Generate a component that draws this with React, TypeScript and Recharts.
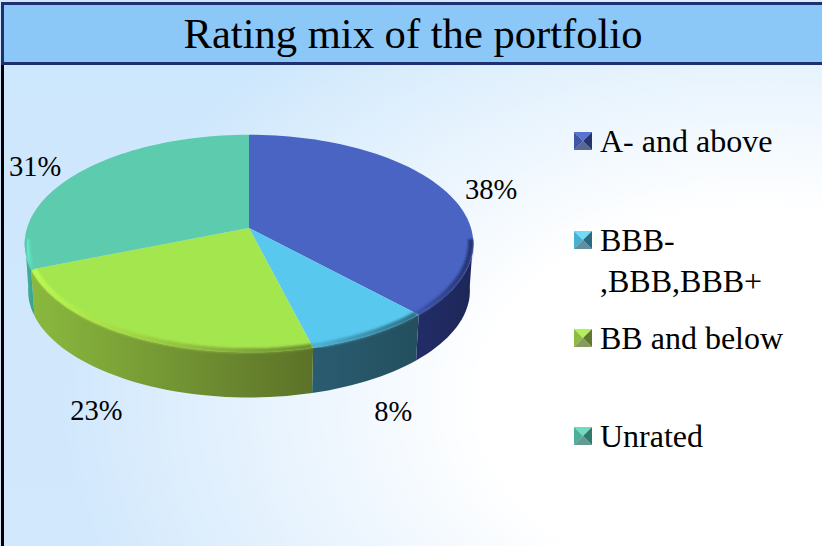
import React from 'react';
import { PieChart, Pie, Legend } from 'recharts';

const categories = ['A- and above', 'BBB-\n,BBB,BBB+', 'BB and below', 'Unrated'];
const values = [38, 8, 23, 31];

const topColors = ['#4a64c4', '#58c8ee', '#a4e64e', '#5ccbae'];
const wallLeft = ['#222d68', '#2a5c70', '#8ab93e', '#46b59c'];
const wallRight = ['#1d2657', '#234f5e', '#5c7228', '#3a9f8a'];
const rimLeft = ['#3f55ab', '#4fb4d6', '#bcfb50', '#62ecc8'];
const rimRight = ['#25336f', '#2f6f86', '#6f8f32', '#5ccbae'];
const markerLight = ['#5a72d0', '#6fdcf8', '#b4f05c', '#6fdcc0'];
const markerMid = ['#3f55a8', '#4ab0d0', '#8cbc44', '#4cb09a'];
const markerDark = ['#27346f', '#2c6a80', '#5f7a2c', '#2f7a6c'];
const legendTops = [0, 99, 197, 295];
const labelNudge = [[46, -1], [22, 77], [-37, 74], [-44, -6]];

const chartData = categories.map((name, i) => ({ name, value: values[i], index: i }));

const SQUASH = 0.48; // top face height vs width
const TILT = 0.143; // perspective, near edge looks bigger
const DEPTH = 47;
const FONT = '"Liberation Serif", "Times New Roman", serif';

// point on the tilted disc for a recharts angle
function project(cx: number, cy: number, r: number, deg: number, scale = 1) {
  const a = (deg * Math.PI) / 180;
  const u = Math.cos(a) * scale;
  const v = -Math.sin(a) * scale;
  const w = 1 - TILT * v;
  return { x: cx + (r * u) / w, y: cy + (r * SQUASH * v) / w };
}

function arcPoints(cx: number, cy: number, r: number, from: number, to: number, scale = 1) {
  const n = Math.max(2, Math.ceil(Math.abs(to - from) / 2));
  return Array.from({ length: n + 1 }, (_, i) => project(cx, cy, r, from + ((to - from) * i) / n, scale));
}

const toPath = (pts: { x: number; y: number }[]) =>
  pts.map((p, i) => `${i ? 'L' : 'M'}${p.x.toFixed(1)},${p.y.toFixed(1)}`).join(' ');

function SliceShape(props: any) {
  const { cx, cy, outerRadius, startAngle, endAngle, index } = props;
  const i = index ?? props.payload?.index ?? 0;
  const top = arcPoints(cx, cy, outerRadius, startAngle, endAngle);

  // only the near part of the rim has a visible wall
  const wallFrom = Math.min(startAngle, -6);
  const wallTo = Math.max(endAngle, -174);
  const hasWall = wallFrom > wallTo;
  let wall = '';
  if (hasWall) {
    const upper = arcPoints(cx, cy, outerRadius, wallFrom, wallTo);
    const lower = arcPoints(cx, cy + DEPTH, outerRadius * 0.985, wallTo, wallFrom);
    wall = `${toPath(upper)} ${toPath(lower).replace('M', 'L')} Z`;
  }

  return (
    <g>
      <defs>
        <linearGradient id={`wall${i}`} x1="0" x2="1" y1="0" y2="0">
          <stop offset="0" stopColor={wallLeft[i]} />
          <stop offset="1" stopColor={wallRight[i]} />
        </linearGradient>
        <linearGradient id={`rim${i}`} x1="0" x2="1" y1="0" y2="0">
          <stop offset="0" stopColor={rimLeft[i]} />
          <stop offset="1" stopColor={rimRight[i]} />
        </linearGradient>
        <filter id={`soft${i}`} x="-5%" y="-5%" width="110%" height="110%">
          <feGaussianBlur stdDeviation="1.2" />
        </filter>
      </defs>
      {hasWall && <path d={wall} fill={`url(#wall${i})`} />}
      <path d={`M${cx},${cy} ${toPath(top).replace('M', 'L')} Z`} fill={topColors[i]} />
      {hasWall && (
        <path
          d={toPath(arcPoints(cx, cy, outerRadius, wallFrom, wallTo, 0.988))}
          fill="none"
          stroke={`url(#rim${i})`}
          strokeWidth={5}
          filter={`url(#soft${i})`}
        />
      )}
    </g>
  );
}

function PercentLabel(props: any) {
  const { cx, cy, outerRadius, midAngle, value, index } = props;
  const p = project(cx, cy, outerRadius, midAngle);
  const i = index ?? 0;
  return (
    <text
      x={p.x + labelNudge[i][0]}
      y={p.y + labelNudge[i][1]}
      fontFamily={FONT}
      fontSize={28.5}
      fill="#000"
      textAnchor="middle"
      dominantBaseline="central"
    >
      {value}%
    </text>
  );
}

function Marker({ i }: { i: number }) {
  return (
    <svg width={18} height={18} style={{ position: 'absolute', left: 0, top: 0 }}>
      <polygon points="0,0 18,0 9,9" fill={markerLight[i]} />
      <polygon points="0,0 0,18 9,9" fill={markerMid[i]} />
      <polygon points="18,0 18,18 9,9" fill={markerDark[i]} />
      <polygon points="0,18 18,18 9,9" fill={markerDark[i]} opacity={0.75} />
    </svg>
  );
}

function RatingLegend({ payload }: any) {
  return (
    <div style={{ position: 'relative', width: 240, height: 340 }}>
      {(payload || []).map((entry: any, idx: number) => (
        <div key={idx} style={{ position: 'absolute', left: 0, top: legendTops[idx] }}>
          <Marker i={idx} />
          <div
            style={{
              marginLeft: 26,
              marginTop: -11,
              fontFamily: FONT,
              fontSize: 32,
              lineHeight: '41px',
              color: '#000',
              whiteSpace: 'pre',
            }}
          >
            {entry.value}
          </div>
        </div>
      ))}
    </div>
  );
}

export default function App() {
  return (
    <div
      style={{
        position: 'absolute',
        left: 0,
        top: 0,
        width: 822,
        height: 546,
        overflow: 'hidden',
        background:
          'radial-gradient(ellipse 700px 480px at 760px 400px, #ffffff 40%, rgba(255,255,255,0) 100%), linear-gradient(180deg, #cde7fc 0%, #d2e8fc 100%)',
      }}
    >
      <div style={{ position: 'absolute', left: 1, top: 64, width: 3, height: 482, background: '#000' }} />
      <div
        style={{
          position: 'absolute',
          left: 1,
          top: 2,
          width: 821,
          height: 63,
          boxSizing: 'border-box',
          background: '#8bc8f8',
          borderTop: '3px solid #1f2f72',
          borderLeft: '3px solid #1f2f72',
          borderBottom: '3px solid #1f2f72',
          fontFamily: FONT,
          fontSize: 42.6,
          lineHeight: '57px',
          textAlign: 'center',
          color: '#000',
        }}
      >
        Rating mix of the portfolio
      </div>
      <div style={{ position: 'absolute', left: 0, top: 0 }}>
        <PieChart width={822} height={546} margin={{ top: 0, right: 0, bottom: 0, left: 0 }}>
          <Pie
            data={chartData}
            dataKey="value"
            nameKey="name"
            cx={249}
            cy={228}
            outerRadius={222}
            startAngle={90}
            endAngle={-270}
            stroke="none"
            label={PercentLabel}
            labelLine={false}
            shape={SliceShape}
            isAnimationActive={false}
          />
          <Legend
            content={RatingLegend}
            layout="vertical"
            itemSorter={null}
            wrapperStyle={{ position: 'absolute', left: 574, top: 132, width: 240 }}
          />
        </PieChart>
      </div>
    </div>
  );
}
